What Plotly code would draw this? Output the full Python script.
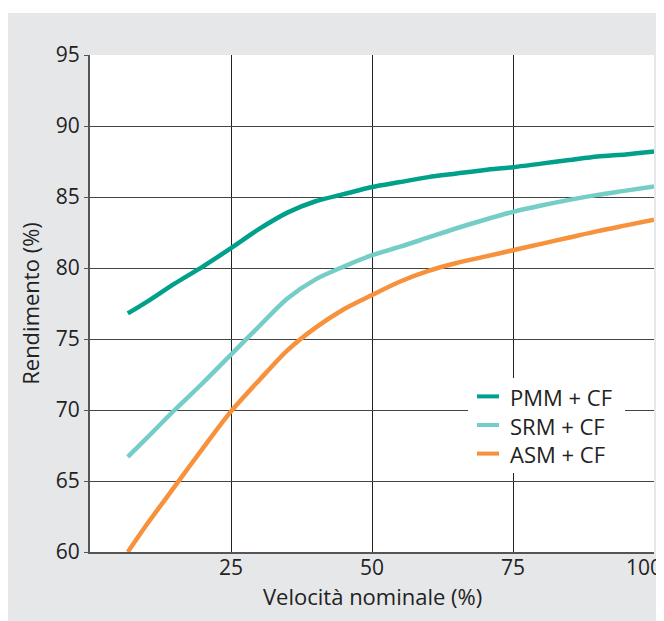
import plotly.graph_objects as go

x_speed = [6.7, 10, 15, 20, 25, 30, 35, 40, 45, 50, 55, 60, 65, 70, 75, 80, 85, 90, 95, 100]
pmm_cf = [76.8, 77.6, 78.9, 80.1, 81.4, 82.75, 83.9, 84.7, 85.2, 85.7, 86.05, 86.4, 86.65, 86.9, 87.1, 87.35, 87.6, 87.85, 88.0, 88.2]
srm_cf = [66.7, 68.0, 70.0, 71.9, 73.9, 75.9, 77.85, 79.2, 80.1, 80.9, 81.5, 82.15, 82.8, 83.4, 83.95, 84.4, 84.8, 85.15, 85.45, 85.75]
asm_cf = [60.0, 61.9, 64.6, 67.3, 69.9, 72.1, 74.2, 75.8, 77.1, 78.1, 79.05, 79.8, 80.35, 80.8, 81.25, 81.7, 82.15, 82.6, 83.0, 83.4]

series_names = ["PMM + CF", "SRM + CF", "ASM + CF"]
series_colors = ["#00a08b", "#74cdc6", "#f7913b"]

x_ticks = [25, 50, 75, 100]
x_ticktext = ["25", "50", "75", "100"]
y_ticks = [60, 65, 70, 75, 80, 85, 90, 95]

x_title = "Velocità nominale (%)"
y_title = "Rendimento (%)"

FONT = "Open Sans"
TXT = "#222222"

# figure geometry (the page adds an 8px body margin)
W, H = 656, 613
ML, MR, MT, MB = 82, 10, 47, 69
PW, PH = W - ML - MR, H - MT - MB


def px(fx):
    return (fx - ML) / PW


def py(fy):
    return (MT + PH - fy) / PH


fig = go.Figure()
for name, ys, col in zip(series_names, [pmm_cf, srm_cf, asm_cf], series_colors):
    fig.add_trace(go.Scatter(
        x=x_speed, y=ys, name=name, mode="lines",
        line=dict(color=col, width=4.5, shape="spline", smoothing=0.8),
        showlegend=False,
    ))

LEG_FONT = 22
row_gap = LEG_FONT * 1.3
row_mid = 417
row_y = [row_mid - row_gap, row_mid, row_mid + row_gap]

shapes = [
    # white strip above the grey panel
    dict(type="rect", xref="paper", yref="paper", x0=-0.3, x1=1.1, y0=py(5), y1=1.3,
         fillcolor="#ffffff", line=dict(width=0), layer="above"),
    # legend background
    dict(type="rect", xref="paper", yref="paper", x0=px(460), x1=px(617), y0=py(465), y1=py(370),
         fillcolor="#ffffff", line=dict(width=0), layer="above"),
]
for col, ry in zip(series_colors, row_y):
    shapes.append(dict(type="line", xref="paper", yref="paper", x0=px(469), x1=px(491),
                       y0=py(ry), y1=py(ry), line=dict(color=col, width=4), layer="above"))

annotations = [
    dict(xref="paper", yref="paper", x=px(501), y=py(row_mid), text="<br>".join(series_names),
         showarrow=False, xanchor="left", yanchor="middle", align="left", borderpad=0,
         font=dict(family=FONT, size=LEG_FONT, color=TXT)),
    dict(xref="paper", yref="paper", x=0.5, y=py(588), text=x_title,
         showarrow=False, xanchor="center", yanchor="middle", borderpad=0,
         font=dict(family=FONT, size=22, color=TXT)),
    # last x tick label, kept inside the page edge
    dict(xref="x", yref="paper", x=x_ticks[-1], y=py(559), text=x_ticktext[-1],
         showarrow=False, xanchor="right", yanchor="middle", xshift=9, borderpad=0,
         font=dict(family=FONT, size=21, color=TXT)),
]

fig.update_layout(
    width=W, height=H,
    margin=dict(l=ML, r=MR, t=MT, b=MB, autoexpand=False),
    paper_bgcolor="#e6e7e9",
    plot_bgcolor="#ffffff",
    font=dict(family=FONT, color=TXT, size=21),
    showlegend=False,
    xaxis=dict(
        range=[0, 100], tickvals=x_ticks, ticktext=x_ticktext[:-1] + [""],
        showgrid=True, gridcolor="#222222", gridwidth=1,
        showline=True, linecolor="#555555", linewidth=2,
        ticks="", ticklen=0, zeroline=False, automargin=False,
        ticklabelstandoff=-4,
        tickfont=dict(family=FONT, size=21, color=TXT),
    ),
    yaxis=dict(
        range=[60, 95], tickvals=y_ticks, ticktext=[str(v) for v in y_ticks],
        showgrid=True, gridcolor="#444444", gridwidth=1,
        showline=True, linecolor="#555555", linewidth=2,
        ticks="outside", ticklen=4, tickcolor="#555555", zeroline=False, automargin=False,
        title=dict(text=y_title, font=dict(family=FONT, size=22, color=TXT), standoff=10),
        tickfont=dict(family=FONT, size=21, color=TXT),
    ),
    shapes=shapes,
    annotations=annotations,
)

fig.write_html("out.html")
